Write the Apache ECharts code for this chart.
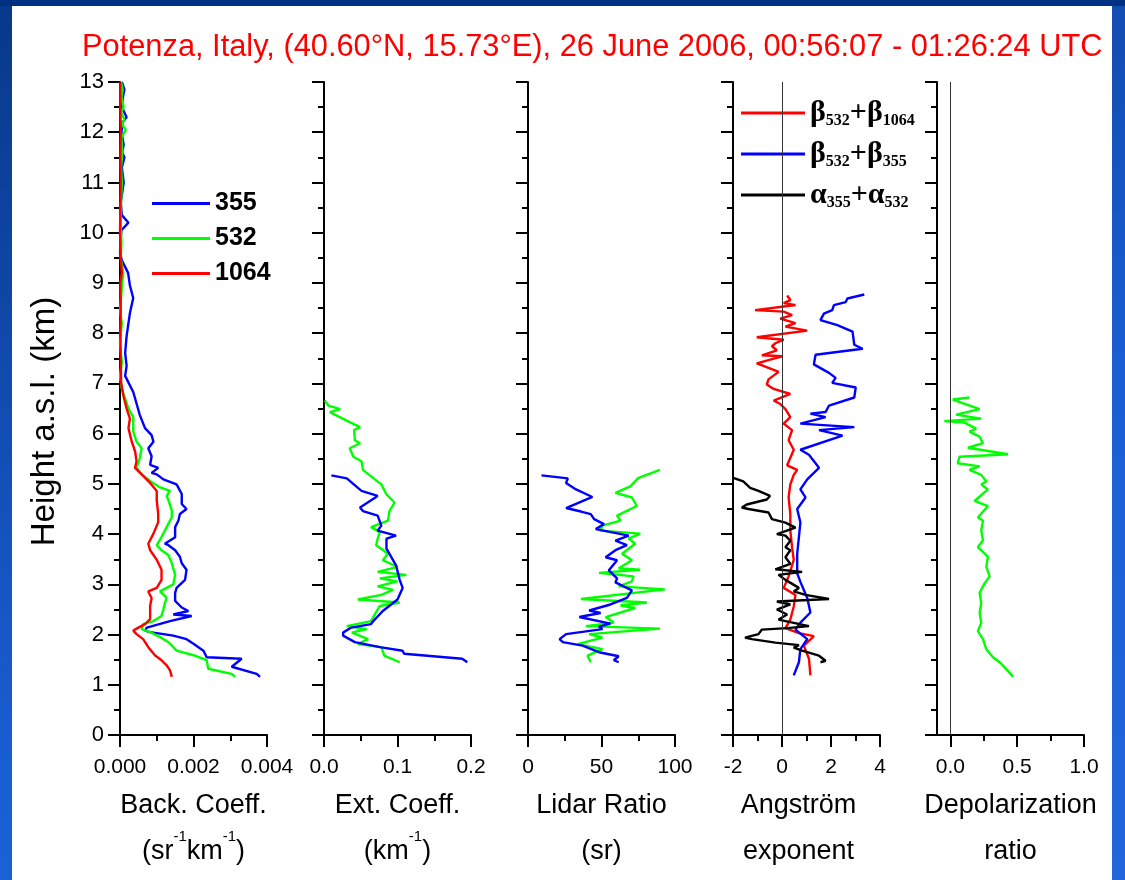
<!DOCTYPE html>
<html>
<head>
<meta charset="utf-8">
<script src="https://cdn.jsdelivr.net/npm/echarts@6/dist/echarts.min.js"></script>
<style>
  html, body { margin: 0; padding: 0; }
  #frame {
    position: relative; width: 1125px; height: 880px; overflow: hidden;
    background:
      linear-gradient(to bottom, #003082 0px, #003082 6px, rgba(0,0,0,0) 6px),
      linear-gradient(160deg, #08388a 0%, #1a5ed4 60%, #2166dc 100%);
  }
  #paper { position: absolute; left: 12px; top: 6px; width: 1100px; height: 874px; background: #fff; }
  #chart { position: absolute; left: 0; top: 0; width: 1125px; height: 880px; }
</style>
</head>
<body>
<div id="frame"><div id="paper"></div><div id="chart"></div></div>
<script>
// profiles as [value, height km a.s.l.]

// backscatter coefficient, 1e-3 sr-1 km-1
const back355 = [[3.81,1.16],[3.72,1.22],[3.04,1.36],[3.31,1.52],[2.36,1.55],[2.27,1.68],[2.0,1.82],[1.81,1.91],[1.45,1.98],[0.82,2.05],[0.68,2.08],[0.73,2.14],[1.36,2.27],[1.95,2.37],[1.45,2.40],[1.86,2.47],[1.68,2.54],[1.50,2.67],[1.50,2.83],[1.54,2.93],[1.77,3.09],[1.81,3.29],[1.68,3.42],[1.63,3.55],[1.50,3.68],[1.32,3.78],[1.22,3.81],[1.50,3.94],[1.50,4.14],[1.59,4.27],[1.63,4.40],[1.81,4.50],[1.68,4.60],[1.68,4.80],[1.54,4.99],[1.18,5.09],[1.0,5.19],[0.86,5.22],[1.04,5.32],[0.82,5.38],[0.86,5.55],[0.77,5.71],[0.91,5.84],[0.86,5.97],[0.68,6.11],[0.54,6.37],[0.45,6.60],[0.36,6.83],[0.14,7.15],[0.18,7.35],[0.14,7.61],[0.18,7.94],[0.23,8.20],[0.27,8.40],[0.36,8.70],[0.27,8.95],[0.22,9.2],[0.05,9.45],[0.0,9.6],[0.02,9.9],[0.04,10.05],[0.23,10.2],[0.05,10.35],[0.02,10.6],[0.06,10.8],[0.1,11.0],[0.05,11.3],[0.12,11.5],[0.06,11.6],[0.1,11.75],[0.04,12.0],[0.07,12.2],[0.18,12.3],[0.05,12.5],[0.08,12.7],[0.12,12.85],[0.05,13.0]];
const back532 = [[3.13,1.16],[3.04,1.22],[2.40,1.32],[2.36,1.49],[2.0,1.59],[1.54,1.68],[1.32,1.85],[1.09,1.95],[0.82,2.05],[0.59,2.11],[0.63,2.21],[0.91,2.27],[1.13,2.37],[1.18,2.50],[1.22,2.63],[1.27,2.73],[1.09,2.86],[1.27,2.93],[1.45,3.0],[1.50,3.19],[1.41,3.42],[1.32,3.58],[1.13,3.68],[1.0,3.78],[1.13,3.94],[1.27,4.14],[1.41,4.34],[1.41,4.47],[1.32,4.67],[1.27,4.76],[1.36,4.86],[1.09,4.93],[0.82,5.06],[0.59,5.19],[0.45,5.32],[0.54,5.52],[0.59,5.71],[0.45,5.84],[0.36,6.04],[0.36,6.33],[0.23,6.50],[0.14,6.70],[0.05,6.89],[0.0,7.15],[0.05,7.42],[0.0,7.81],[0.05,8.20],[0.0,8.46],[0.03,8.72],[0.06,9.0],[0.09,9.2],[0.02,9.5],[0.04,9.8],[0.02,10.2],[0.03,10.6],[0.05,11.0],[0.03,11.3],[0.06,11.6],[0.04,11.9],[0.16,12.05],[0.05,12.15],[0.12,12.25],[0.03,12.4],[0.1,12.5],[0.04,12.7],[0.07,12.85],[0.03,13.0]];
const back1064 = [[1.41,1.16],[1.36,1.29],[1.27,1.39],[1.13,1.49],[0.95,1.59],[0.77,1.75],[0.63,1.91],[0.45,2.01],[0.36,2.08],[0.5,2.14],[0.68,2.21],[0.82,2.31],[0.82,2.57],[0.86,2.73],[0.77,2.86],[1.0,2.93],[1.13,3.09],[1.13,3.29],[1.0,3.49],[0.82,3.68],[0.77,3.81],[0.91,4.01],[1.04,4.24],[1.04,4.40],[1.0,4.67],[1.0,4.86],[0.82,5.02],[0.63,5.16],[0.41,5.32],[0.45,5.45],[0.41,5.65],[0.32,5.84],[0.23,6.11],[0.27,6.30],[0.18,6.50],[0.09,6.76],[0.03,7.02],[0.02,7.48],[0.01,8.0],[0.02,8.5],[0.01,9.0],[0.05,9.2],[0.02,9.5],[0.0,10.0],[0.01,10.5],[0.02,11.0],[0.01,11.5],[0.02,12.0],[0.01,12.5],[0.01,13.0]];

// extinction coefficient, km-1
const ext532 = [[0.103,1.45],[0.082,1.58],[0.078,1.75],[0.046,1.81],[0.060,1.91],[0.038,2.04],[0.058,2.11],[0.031,2.17],[0.064,2.27],[0.069,2.40],[0.076,2.57],[0.103,2.64],[0.046,2.70],[0.078,2.79],[0.094,2.89],[0.073,2.96],[0.100,3.06],[0.076,3.12],[0.112,3.19],[0.073,3.25],[0.100,3.35],[0.080,3.48],[0.087,3.61],[0.071,3.78],[0.073,3.91],[0.076,4.04],[0.064,4.14],[0.087,4.27],[0.089,4.46],[0.096,4.63],[0.085,4.79],[0.078,4.99],[0.064,5.15],[0.053,5.28],[0.051,5.45],[0.040,5.54],[0.035,5.71],[0.049,5.81],[0.042,5.87],[0.041,6.07],[0.049,6.13],[0.035,6.23],[0.008,6.43],[0.022,6.49],[0.006,6.56],[0.001,6.66]];
const ext355 = [[0.195,1.45],[0.188,1.52],[0.109,1.62],[0.107,1.68],[0.076,1.75],[0.042,1.85],[0.026,1.98],[0.026,2.04],[0.037,2.14],[0.064,2.21],[0.067,2.27],[0.080,2.47],[0.100,2.70],[0.107,2.93],[0.103,3.09],[0.098,3.38],[0.085,3.71],[0.085,3.91],[0.098,3.97],[0.073,4.07],[0.078,4.17],[0.073,4.37],[0.053,4.46],[0.049,4.53],[0.073,4.76],[0.051,4.86],[0.031,5.11],[0.010,5.17]];

// lidar ratio, sr
const lr532 = [[42.7,1.45],[40.5,1.58],[50.6,1.71],[33.8,1.81],[50.6,1.94],[41.6,2.01],[89.7,2.12],[39.4,2.17],[58.4,2.24],[52.8,2.35],[72.9,2.53],[62.9,2.58],[80.8,2.64],[36.0,2.71],[93.1,2.90],[61.7,2.96],[70.7,3.06],[71.8,3.16],[48.3,3.23],[76.3,3.29],[61.7,3.32],[70.7,3.48],[64.0,3.61],[72.9,3.81],[68.5,3.91],[76.3,4.01],[49.4,4.07],[50.6,4.17],[62.9,4.27],[60.6,4.37],[74.0,4.56],[70.7,4.73],[59.5,4.82],[69.6,4.95],[72.9,5.05],[75.2,5.12],[80.7,5.18],[89.7,5.28]];
const lr355 = [[61.7,1.45],[58.4,1.49],[61.7,1.57],[48.3,1.65],[37.1,1.78],[23.7,1.85],[21.5,1.91],[25.9,2.01],[50.6,2.11],[48.3,2.16],[56.1,2.22],[34.9,2.35],[49.4,2.43],[41.6,2.48],[56.1,2.60],[67.3,2.73],[70.7,2.88],[59.5,3.04],[60.6,3.12],[55.0,3.28],[60.6,3.48],[52.8,3.54],[59.5,3.68],[67.3,3.78],[59.5,3.87],[68.5,3.97],[46.1,4.10],[51.7,4.20],[45.0,4.30],[42.7,4.40],[36.0,4.45],[25.9,4.52],[43.8,4.74],[32.7,4.89],[25.9,5.02],[27.1,5.11],[9.2,5.17]];

// Angstrom exponents
const ae532_1064 = [[1.16,1.19],[1.10,1.52],[0.89,1.78],[1.30,1.97],[0.69,2.03],[0.14,2.13],[0.34,2.30],[0.48,2.56],[0.55,2.79],[0.07,2.93],[0.27,3.16],[0.48,3.49],[0.41,3.74],[0.34,4.07],[0.34,4.40],[0.27,4.73],[0.34,4.99],[0.48,5.18],[0.62,5.28],[0.21,5.37],[0.48,5.68],[0.27,5.87],[0.41,6.07],[0.07,6.20],[0.34,6.33],[0.14,6.49],[-0.07,6.59],[-0.34,6.66],[0.34,6.79],[-0.34,6.89],[-0.62,6.98],[-0.55,7.08],[-0.14,7.23],[-0.55,7.31],[-1.03,7.40],[0.0,7.54],[-0.82,7.56],[-0.21,7.66],[-0.41,7.74],[-0.27,7.80],[0.07,7.87],[-1.03,7.92],[1.03,8.05],[0.14,8.13],[0.55,8.20],[-0.07,8.29],[0.41,8.36],[0.07,8.43],[-1.1,8.46],[0.55,8.56],[0.07,8.60],[0.34,8.66],[0.21,8.75]];
const ae532_355 = [[0.48,1.19],[0.69,1.45],[0.75,1.71],[1.03,1.91],[0.55,2.10],[0.75,2.24],[1.16,2.44],[1.03,2.73],[0.75,3.05],[0.62,3.22],[0.62,3.61],[0.69,3.94],[0.75,4.23],[0.62,4.50],[0.96,4.73],[0.75,4.89],[1.03,5.09],[1.51,5.32],[1.10,5.58],[0.75,5.68],[2.47,5.96],[1.51,6.07],[2.95,6.13],[0.75,6.20],[1.78,6.33],[1.16,6.40],[1.78,6.43],[1.92,6.56],[2.95,6.72],[3.01,6.92],[2.05,7.01],[2.19,7.11],[1.92,7.21],[1.30,7.38],[1.37,7.57],[3.29,7.69],[2.95,7.77],[2.88,8.03],[2.26,8.16],[1.57,8.26],[1.71,8.39],[2.05,8.46],[2.12,8.56],[2.60,8.62],[2.67,8.69],[3.36,8.77]];
const ae355_532 = [[1.57,1.45],[1.78,1.48],[1.51,1.58],[0.82,1.68],[0.48,1.74],[0.69,1.79],[-0.27,1.84],[-1.23,1.91],[-1.51,1.94],[-0.96,2.01],[-0.82,2.10],[0.21,2.13],[1.10,2.17],[-0.14,2.30],[0.21,2.40],[-0.21,2.50],[0.34,2.60],[-0.21,2.66],[1.92,2.71],[0.96,2.79],[0.48,2.86],[0.69,2.93],[0.14,3.09],[-0.14,3.19],[0.82,3.25],[-0.27,3.30],[0.34,3.41],[0.14,3.54],[0.34,3.68],[0.14,3.74],[0.34,3.87],[0.14,3.97],[-0.21,4.00],[0.55,4.13],[0.14,4.23],[-0.41,4.30],[-0.55,4.43],[-1.37,4.50],[-1.64,4.53],[-1.44,4.59],[-0.62,4.69],[-0.49,4.76],[-0.96,4.86],[-1.30,4.92],[-1.58,5.05],[-1.99,5.12]];

// volume depolarization ratio, 532 nm
const depol532 = [[0.470,1.16],[0.382,1.42],[0.319,1.55],[0.269,1.71],[0.244,1.91],[0.206,2.07],[0.231,2.24],[0.219,2.43],[0.231,2.63],[0.219,2.83],[0.256,3.02],[0.294,3.16],[0.269,3.35],[0.281,3.55],[0.206,3.74],[0.244,3.88],[0.231,4.07],[0.244,4.27],[0.206,4.33],[0.281,4.56],[0.181,4.66],[0.281,4.89],[0.231,4.99],[0.269,5.05],[0.231,5.18],[0.143,5.28],[0.219,5.35],[0.055,5.41],[0.068,5.54],[0.432,5.59],[0.131,5.72],[0.244,5.81],[0.219,5.94],[0.143,6.04],[0.193,6.10],[0.106,6.22],[-0.045,6.25],[0.231,6.30],[0.043,6.38],[0.219,6.49],[0.018,6.68],[0.143,6.72]];

const panelLeft = [120, 324, 528, 733, 937];
const FONT = "'Liberation Sans', Arial, sans-serif";
const SERIF = "'Liberation Serif', 'Times New Roman', serif";
const BLUE = '#0000ff', GREEN = '#00ff00', RED = '#ff0000', BLACK = '#000000';

const legendTexts = {
  b1064: '{g|β}{s|532}{g|+β}{s|1064}',
  b355: '{g|β}{s|532}{g|+β}{s|355}',
  a532: '{g|α}{s|355}{g|+α}{s|532}'
};

const axisLineStyle = { onZero: false, lineStyle: { color: '#000', width: 2 } };
const nameStyle = {
  color: '#000', fontSize: 27, fontFamily: FONT, lineHeight: 46,
  rich: { s: { fontSize: 15, fontFamily: FONT, lineHeight: 22, verticalAlign: 'top', color: '#000' } }
};

function xAxisBase(i, extra) {
  return Object.assign({
    type: 'value', gridIndex: i, position: 'bottom',
    axisLine: axisLineStyle,
    axisTick: { length: 12, lineStyle: { width: 2, color: '#000' } },
    minorTick: { show: true, splitNumber: 2, length: 6, lineStyle: { width: 2, color: '#000' } },
    splitLine: { show: false },
    axisLabel: { color: '#000', fontSize: 21, fontFamily: FONT, margin: 22 },
    nameLocation: 'middle', nameGap: 39, nameTextStyle: nameStyle
  }, extra);
}

const xAxes = [
  xAxisBase(0, { min: 0, max: 4, interval: 2, name: 'Back. Coeff.\n(sr{s|-1}km{s|-1})',
    axisLabel: { color: '#000', fontSize: 21, fontFamily: FONT, margin: 22, formatter: v => (v / 1000).toFixed(3) } }),
  xAxisBase(1, { min: 0, max: 0.2, interval: 0.1, name: 'Ext. Coeff.\n(km{s|-1})',
    axisLabel: { color: '#000', fontSize: 21, fontFamily: FONT, margin: 22, formatter: v => v.toFixed(1) } }),
  xAxisBase(2, { min: 0, max: 100, interval: 50, name: 'Lidar Ratio\n(sr)' }),
  xAxisBase(3, { min: -2, max: 4, interval: 2, name: 'Angström\nexponent',
    nameTextStyle: Object.assign({}, nameStyle, { padding: [0, 16, 0, 0] }) }),
  xAxisBase(4, { min: -0.1, max: 1.0, name: 'Depolarization\nratio',
    axisTick: { length: 12, customValues: [0, 0.5, 1.0], lineStyle: { width: 2, color: '#000' } },
    minorTick: { show: false },
    axisLabel: { color: '#000', fontSize: 21, fontFamily: FONT, margin: 22, customValues: [0, 0.5, 1.0],
      formatter: v => v.toFixed(1) } }),
  // minor ticks of the depolarization axis
  { type: 'value', gridIndex: 4, position: 'bottom', offset: 0, min: -0.1, max: 1.0,
    axisLine: { show: false, onZero: false }, axisLabel: { show: false }, splitLine: { show: false },
    axisTick: { length: 6, customValues: [0.25, 0.75], lineStyle: { width: 2, color: '#000' } } }
];

const yAxes = panelLeft.map((_, i) => ({
  type: 'value', gridIndex: i, position: 'left', min: 0, max: 13, interval: 1,
  axisLine: axisLineStyle,
  axisTick: { length: 12, lineStyle: { width: 2, color: '#000' } },
  minorTick: { show: true, splitNumber: 2, length: 6, lineStyle: { width: 2, color: '#000' } },
  splitLine: { show: false },
  axisLabel: { show: i === 0, color: '#000', fontSize: 22, fontFamily: FONT, margin: 16 },
  name: i === 0 ? 'Height a.s.l. (km)' : '',
  nameLocation: 'middle', nameGap: 59,
  nameTextStyle: { color: '#000', fontSize: 33, fontFamily: FONT, padding: [0, 26, 0, 0] }
}));

function profile(name, data, panel, color, extra) {
  return Object.assign({
    name, type: 'line', xAxisIndex: panel, yAxisIndex: panel, data,
    symbol: 'none', showSymbol: false, z: 3,
    lineStyle: { color, width: 2.4 }, itemStyle: { color }
  }, extra);
}

const zeroLine = {
  silent: true, symbol: ['none', 'none'], label: { show: false },
  lineStyle: { color: '#333', width: 1, type: 'solid' },
  data: [{ xAxis: 0 }]
};

const chart = echarts.init(document.getElementById('chart'));
chart.setOption({
  animation: false,
  title: {
    text: 'Potenza, Italy, (40.60°N, 15.73°E), 26 June 2006, 00:56:07 - 01:26:24 UTC',
    left: 82, top: 32, padding: 0,
    textStyle: { color: '#ff0000', fontSize: 30.8, fontWeight: 'normal', fontFamily: FONT }
  },
  legend: [
    { data: ['355', '532', '1064'], orient: 'vertical', left: 152, top: 191, padding: 0,
      icon: 'rect', itemWidth: 58, itemHeight: 3, itemGap: 10, selectedMode: false,
      textStyle: { color: '#000', fontSize: 25, fontWeight: 'bold', fontFamily: FONT, lineHeight: 24 } },
    { data: ['b1064', 'b355', 'a532'], orient: 'vertical', left: 741, top: 97, padding: 0,
      icon: 'rect', itemWidth: 64, itemHeight: 3, itemGap: 9, selectedMode: false,
      formatter: n => legendTexts[n],
      textStyle: { color: '#000', lineHeight: 32,
        rich: {
          g: { fontSize: 30, fontWeight: 'bold', fontFamily: SERIF, color: '#000', lineHeight: 32 },
          s: { fontSize: 16, fontWeight: 'bold', fontFamily: SERIF, color: '#000', lineHeight: 16, verticalAlign: 'bottom' }
        } } }
  ],
  grid: panelLeft.map(l => ({ left: l, top: 82, width: 147, height: 662 })),
  xAxis: xAxes,
  yAxis: yAxes,
  series: [
    profile('355', back355, 0, BLUE),
    profile('532', back532, 0, GREEN),
    profile('1064', back1064, 0, RED),
    profile('532', ext532, 1, GREEN),
    profile('355', ext355, 1, BLUE),
    profile('532', lr532, 2, GREEN),
    profile('355', lr355, 2, BLUE),
    profile('b1064', ae532_1064, 3, RED, { markLine: zeroLine }),
    profile('b355', ae532_355, 3, BLUE),
    profile('a532', ae355_532, 3, BLACK),
    profile('532', depol532, 4, GREEN, { markLine: zeroLine })
  ]
});
</script>
</body>
</html>
